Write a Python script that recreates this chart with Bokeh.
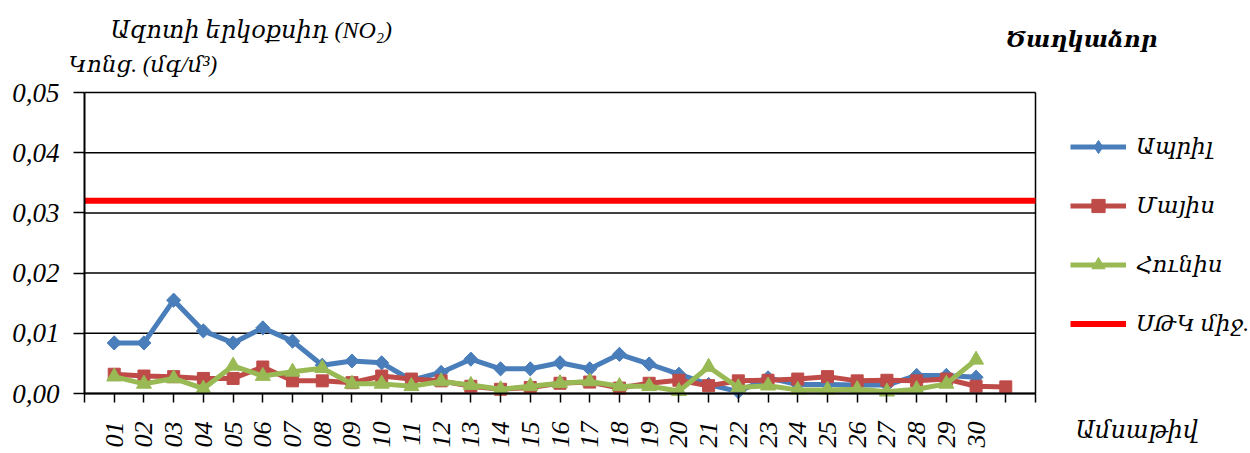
from math import pi

from bokeh.embed import file_html
from bokeh.resources import INLINE
from bokeh.plotting import figure
from bokeh.models import (Range1d, FixedTicker, CustomJSTickFormatter, Label,
                          Legend, LegendItem)

# --- data -----------------------------------------------------------------
day_labels = ["01", "02", "03", "04", "05", "06", "07", "08", "09", "10",
              "11", "12", "13", "14", "15", "16", "17", "18", "19", "20",
              "21", "22", "23", "24", "25", "26", "27", "28", "29", "30"]

april = [0.0084, 0.0084, 0.0155, 0.0104, 0.0084, 0.0109, 0.0087, 0.0047, 0.0054, 0.0051,
         0.0022, 0.0035, 0.0057, 0.0041, 0.0041, 0.0051, 0.0041, 0.0065, 0.0049, 0.0032,
         0.0015, 0.0003, 0.0026, 0.0015, 0.0015, 0.0014, 0.0014, 0.0030, 0.0030, 0.0027]

may = [0.0032, 0.0029, 0.0028, 0.0025, 0.0025, 0.0044, 0.0021, 0.0021, 0.0018, 0.0029,
       0.0024, 0.0021, 0.0012, 0.0007, 0.0010, 0.0017, 0.0019, 0.0009, 0.0017, 0.0022,
       0.0013, 0.0021, 0.0022, 0.0024, 0.0028, 0.0021, 0.0022, 0.0021, 0.0024, 0.0012,
       0.0011]

june = [0.0028, 0.0016, 0.0025, 0.0008, 0.0046, 0.0029, 0.0036, 0.0042, 0.0016, 0.0016,
        0.0012, 0.0020, 0.0014, 0.0007, 0.0012, 0.0017, 0.0020, 0.0012, 0.0012, 0.0004,
        0.0044, 0.0010, 0.0013, 0.0006, 0.0006, 0.0007, 0.0003, 0.0007, 0.0016, 0.0056]

mpc_value = 0.032          # ՍԹԿ (daily average limit)
y_ticks = [0.0, 0.01, 0.02, 0.03, 0.04, 0.05]

# --- page geometry ----------------------------------------------------------
W, H = 1250, 453
AREA_L, AREA_R, AREA_T, AREA_B = 84, 1035, 92, 393   # plot area in page pixels

FONT = "Liberation Serif, DejaVu Serif"
BLUE, RED, GREEN, MPC_RED = "#4A7EBB", "#BE4B48", "#98B954", "#FF0000"

n_slots = max(len(april), len(may), len(june)) + 1
x_april = list(range(1, len(april) + 1))
x_may = list(range(1, len(may) + 1))
x_june = list(range(1, len(june) + 1))

# The frame covers the whole page; the ranges are widened so that the
# category slots and the 0..0.05 scale land on the plot area, leaving room
# for titles and the legend around it.
x_per_px = n_slots / (AREA_R - AREA_L)
y_per_px = (y_ticks[-1] - y_ticks[0]) / (AREA_B - AREA_T)
x_range = Range1d(-AREA_L * x_per_px, n_slots + (W - AREA_R) * x_per_px)
y_range = Range1d(y_ticks[0] - (H - AREA_B) * y_per_px, y_ticks[-1] + AREA_T * y_per_px)

p = figure(width=W, height=H, output_backend="svg", toolbar_location=None,
           x_range=x_range, y_range=y_range, min_border=0,
           background_fill_color="white", border_fill_color="white")
p.outline_line_color = None
p.xgrid.visible = False
p.ygrid.visible = False

# y axis pinned at the first slot
p.yaxis.fixed_location = 0
p.yaxis.bounds = (y_ticks[0], y_ticks[-1])
p.yaxis.ticker = FixedTicker(ticks=y_ticks)
p.yaxis.formatter = CustomJSTickFormatter(code="return tick.toFixed(2).replace('.', ',');")
p.yaxis.major_tick_in = 0
p.yaxis.major_tick_out = 11
p.yaxis.minor_tick_line_color = None
p.yaxis.axis_line_width = 2
p.yaxis.major_tick_line_width = 1.5
p.yaxis.major_label_text_font = FONT
p.yaxis.major_label_text_font_style = "italic"
p.yaxis.major_label_text_font_size = "27px"
p.yaxis.major_label_text_color = "black"
p.yaxis.major_label_standoff = 14

# x axis pinned at zero; ticks on every slot, day labels on 1..30
p.xaxis.fixed_location = 0
p.xaxis.bounds = (0, n_slots)
p.xaxis.ticker = FixedTicker(ticks=list(range(0, n_slots + 1)))
overrides = {i: "" for i in range(0, n_slots + 1)}
for i, lab in enumerate(day_labels, start=1):
    overrides[i] = lab
p.xaxis.major_label_overrides = overrides
p.xaxis.major_label_orientation = pi / 2
p.xaxis.major_tick_in = 0
p.xaxis.major_tick_out = 9
p.xaxis.minor_tick_line_color = None
p.xaxis.axis_line_width = 2
p.xaxis.major_tick_line_width = 1.5
p.xaxis.major_label_text_font = FONT
p.xaxis.major_label_text_font_style = "italic"
p.xaxis.major_label_text_font_size = "26px"
p.xaxis.major_label_text_color = "black"
p.xaxis.major_label_standoff = 19

# horizontal grid lines and the right edge of the plot area
p.segment(x0=[0] * len(y_ticks), x1=[n_slots] * len(y_ticks), y0=y_ticks, y1=y_ticks,
          line_color="black", line_width=1.5)
p.segment(x0=[n_slots], x1=[n_slots], y0=[y_ticks[0]], y1=[y_ticks[-1]],
          line_color="black", line_width=1.5)

# --- series -------------------------------------------------------------------
# diamond key for the legend swatch; it sits hidden under the rotated squares
k_apr = p.scatter(x_april, april, marker="diamond", size=13,
                  fill_color=BLUE, line_color=BLUE)
l_apr = p.line(x_april, april, line_color=BLUE, line_width=5)
s_apr = p.scatter(x_april, april, marker="square", angle=pi / 4, size=10,
                  fill_color=BLUE, line_color=BLUE)

l_may = p.line(x_may, may, line_color=RED, line_width=5)
s_may = p.scatter(x_may, may, marker="square", size=12,
                  fill_color=RED, line_color=RED)

l_jun = p.line(x_june, june, line_color=GREEN, line_width=5)
s_jun = p.scatter(x_june, june, marker="triangle", size=15,
                  fill_color=GREEN, line_color=GREEN)

l_mpc = p.line([0, n_slots], [mpc_value, mpc_value], line_color=MPC_RED, line_width=6)

legend = Legend(items=[
    LegendItem(label="Ապրիլ", renderers=[l_apr, k_apr]),
    LegendItem(label="Մայիս", renderers=[l_may, s_may]),
    LegendItem(label="Հունիս", renderers=[l_jun, s_jun]),
    LegendItem(label="ՍԹԿ միջ.", renderers=[l_mpc]),
], location=(1070, H - 340), glyph_width=56, glyph_height=33, label_height=22,
    spacing=26, label_standoff=10, padding=0, margin=0, background_fill_alpha=0,
    border_line_alpha=0, label_text_font=FONT, label_text_font_style="italic",
    label_text_font_size="23px", label_text_color="black")
p.add_layout(legend)

# --- titles -------------------------------------------------------------------
def page_label(text, px, baseline, size, style="italic"):
    # px, baseline: page position in pixels from the top-left corner
    p.add_layout(Label(x=px, y=H - baseline, x_units="screen", y_units="screen",
                       text=text, text_font=FONT, text_font_style=style,
                       text_font_size=size, text_color="black",
                       text_align="left", text_baseline="alphabetic"))

page_label("Ազոտի երկօքսիդ  (NO₂)", 110, 29, "24px")
page_label("Կոնց. (մգ/մ³)", 68, 64, "23px")
page_label("Ծաղկաձոր", 1005, 39, "23px", "bold italic")
page_label("Ամսաթիվ", 1075, 429, "24px")

open("out.html", "w").write(file_html(p, INLINE))
